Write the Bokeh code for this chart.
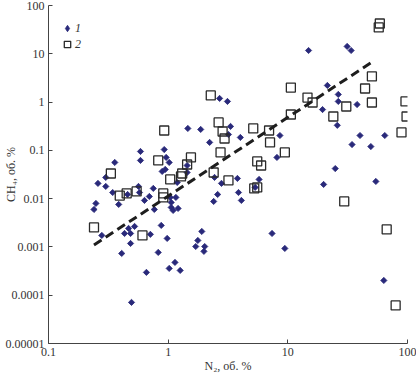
import numpy as np
from bokeh.plotting import figure
from bokeh.models import Range1d, FixedTicker, CustomJSTickFormatter, Legend, LegendItem
from bokeh.embed import file_html
from bokeh.resources import INLINE

# ---- data ----
series_labels = ["1", "2"]

n2_1 = [14.9, 31.3, 33.8, 21.4, 26.4, 26.4, 19.5, 37.9, 25.9, 40.1, 64.6, 34.4, 49.4,
        24.9, 19.9, 54.4, 63.4, 2.69, 3.13, 3.32, 1.46, 1.87, 3.19, 4.01, 8.59, 2.22,
        8.11, 1.44, 1.44, 2.44, 1.19, 2.79, 3.79, 5.75, 5.33, 2.59, 3.87, 2.40, 4.09,
        1.91, 1.77, 1.70, 2.02, 1.99, 7.38, 9.44, 0.249, 0.240, 0.386, 0.344, 0.458,
        0.576, 0.696, 0.634, 0.766, 0.279, 0.432, 0.467, 0.485, 0.524, 0.485, 0.409,
        0.710, 0.875, 0.981, 0.826, 0.658, 1.14, 1.02, 1.26, 0.494, 0.259, 0.301,
        0.301, 0.358, 0.587, 0.587, 0.927, 0.962, 1.02, 0.891, 0.945, 0.565, 0.751,
        1.04, 1.06, 1.16, 1.06, 1.10, 1.21]
ch4_1 = [11.7, 14.2, 11.7, 2.21, 1.44, 1.03, 0.70, 0.89, 0.33, 0.203, 0.203, 0.132, 0.120,
         0.042, 0.0197, 0.0227, 0.000202, 1.19, 1.03, 0.313, 0.284, 0.271, 0.213, 0.185,
         0.203, 0.146, 0.0713, 0.0486, 0.0348, 0.0275, 0.0216, 0.0207, 0.0262, 0.025,
         0.0171, 0.0122, 0.0134, 0.00875, 0.00918, 0.00209, 0.00136, 0.00102, 0.00102,
         0.00081, 0.0019, 0.00093, 0.00796, 0.00597, 0.00759, 0.0134, 0.0122, 0.0134,
         0.0111, 0.00918, 0.00597, 0.00173, 0.0019, 0.00242, 0.0019, 0.00266, 0.00118,
         0.000733, 0.00182, 0.00279, 0.0015, 0.000769, 0.000297, 0.000478, 0.000359,
         0.000326, 0.000071, 0.0207, 0.0275, 0.0179, 0.0561, 0.0948, 0.0618, 0.104,
         0.0713, 0.0561, 0.0366, 0.0402, 0.0179, 0.0163, 0.0106, 0.00834, 0.0106,
         0.00657, 0.0057, 0.00627]

n2_2 = [58.7, 57.5, 50.4, 10.6, 44.2, 14.6, 16.1, 30.8, 50.4, 10.6, 24.0, 96.2, 98.2,
        89.1, 29.6, 67.0, 79.6, 2.27, 2.64, 5.14, 6.97, 2.85, 2.96, 7.10, 0.927, 0.826,
        2.74, 9.44, 1.55, 1.44, 5.55, 5.98, 2.40, 1.31, 1.28, 1.04, 3.19, 5.55, 5.24,
        0.332, 0.394, 0.450, 0.545, 0.910, 0.910, 0.240, 0.610]
ch4_2 = [42.4, 35.1, 3.39, 2.0, 1.91, 1.24, 0.98, 0.81, 0.98, 0.553, 0.503, 1.03, 0.503,
         0.235, 0.00875, 0.0023, 0.0000615, 1.37, 0.378, 0.284, 0.258, 0.246, 0.176,
         0.146, 0.258, 0.0618, 0.0906, 0.0906, 0.0713, 0.051, 0.0589, 0.0486, 0.0348,
         0.0332, 0.0288, 0.025, 0.0238, 0.0171, 0.0163, 0.0332, 0.0116, 0.0128, 0.0141,
         0.0128, 0.0106, 0.00254, 0.00173]

fit_n2 = [0.24, 53.0]
fit_ch4 = [0.0011, 7.3]

x_ticks = [0.1, 1, 10, 100]
x_tick_labels = ["0.1", "1", "10", "100"]
y_ticks = [0.00001, 0.0001, 0.001, 0.01, 0.1, 1, 10, 100]
y_tick_labels = ["0.00001", "0.0001", "0.001", "0.01", "0.1", "1", "10", "100"]

x_title = "N\u2082, об. %"
y_title = "CH\u2084, об. %"

# ---- figure ----
FONT = "Liberation Serif"
DIAMOND = "#29297a"
p = figure(width=416, height=377, x_axis_type="log", y_axis_type="log",
           x_range=Range1d(0.1, 100), y_range=Range1d(0.00001, 100),
           output_backend="svg", toolbar_location=None,
           min_border_left=43, min_border_right=9, min_border_top=5, min_border_bottom=34)
p.outline_line_color = None
p.xgrid.visible = False
p.ygrid.visible = False
p.background_fill_color = "white"

fmt_code = ("for (let i = 0; i < tv.length; i++) {"
            " if (Math.abs(Math.log10(tv[i]) - Math.log10(tick)) < 1e-6) return tl[i]; }"
            " return '';")
p.xaxis.ticker = FixedTicker(ticks=x_ticks)
p.xaxis.formatter = CustomJSTickFormatter(args=dict(tv=x_ticks, tl=x_tick_labels), code=fmt_code)
p.yaxis.ticker = FixedTicker(ticks=y_ticks)
p.yaxis.formatter = CustomJSTickFormatter(args=dict(tv=y_ticks, tl=y_tick_labels), code=fmt_code)

for ax in (p.xaxis, p.yaxis):
    ax.axis_line_color = "#444444"
    ax.axis_line_width = 1
    ax.major_tick_in = 4
    ax.major_tick_out = 0
    ax.major_tick_line_color = "#444444"
    ax.minor_tick_line_color = None
    ax.major_label_text_font = FONT
    ax.major_label_text_font_size = "12px"
    ax.major_label_text_color = "#333333"
    ax.major_label_standoff = 4
    ax.axis_label_text_font = FONT
    ax.axis_label_text_font_size = "12px"
    ax.axis_label_text_font_style = "normal"
    ax.axis_label_text_color = "#333333"

p.xaxis.axis_label = x_title
p.xaxis.axis_label_standoff = 0
p.yaxis.axis_label = y_title
p.yaxis.axis_label_standoff = -15

p.scatter(n2_1, ch4_1, marker="square", angle=np.pi / 4, size=4.4,
          fill_color=DIAMOND, line_color=DIAMOND, line_width=0.8)
r2 = p.scatter(n2_2, ch4_2, marker="square", size=9, fill_alpha=0,
               line_color="#2a2a2a", line_width=1.3)
p.line(fit_n2, fit_ch4, line_color="#1e1e1e", line_width=3, line_dash="9 5")

# legend glyph for series 1 (diamond shape; its single point is NaN, so nothing is plotted)
r1_leg = p.scatter(x=[np.nan], y=[np.nan], marker="diamond", size=8,
                   fill_color=DIAMOND, line_color=DIAMOND, line_width=0.8)

legend = Legend(items=[LegendItem(label=series_labels[0], renderers=[r1_leg]),
                       LegendItem(label=series_labels[1], renderers=[r2])],
                location=(4, 284), margin=0, padding=7, spacing=0,
                glyph_width=16, glyph_height=16, label_height=16, label_standoff=-1,
                label_text_font=FONT, label_text_font_size="12px",
                label_text_font_style="italic", label_text_color="#333333",
                border_line_alpha=0, background_fill_alpha=0)
p.add_layout(legend)

open("out.html", "w").write(file_html(p, INLINE))
